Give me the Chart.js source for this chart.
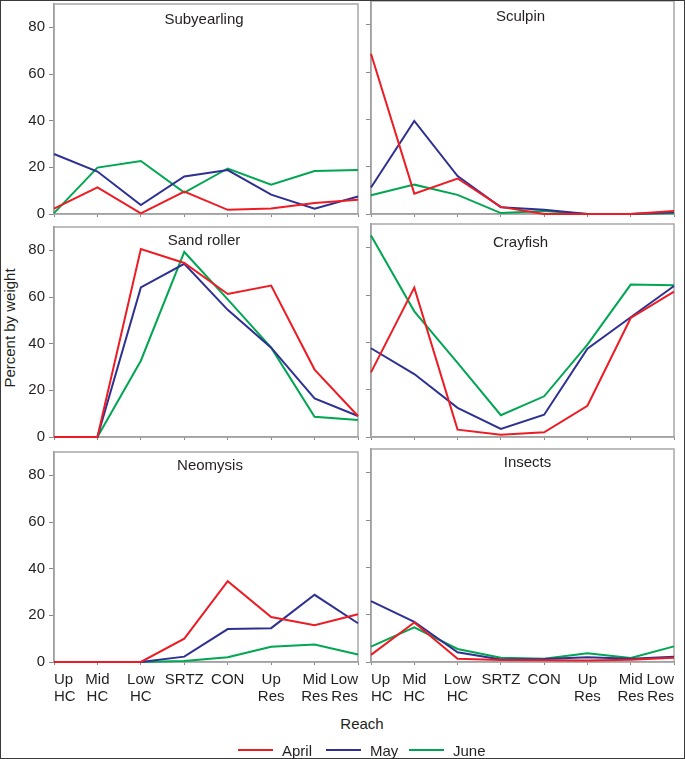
<!DOCTYPE html>
<html>
<head>
<meta charset="utf-8">
<script src="https://cdn.jsdelivr.net/npm/chart.js@4.4.0/dist/chart.umd.min.js"></script>
<style>
  body { margin: 0; background: #fff; }
  #wrap { position: relative; width: 685px; height: 759px; overflow: hidden; background: #fff;
          font-family: "Liberation Sans", Arial, sans-serif; color: #231f20; }
  #wrap canvas { position: absolute; }
  #border { position: absolute; left: 0; top: 0; right: 0; bottom: 0; border: 1.5px solid #3a3a3a; pointer-events: none; }
  .txt { position: absolute; font-size: 15px; white-space: nowrap; line-height: 1; }
  #ylab { left: 9px; top: 328px; transform: translate(-50%, -50%) rotate(-90deg); }
  #xlab { left: 362px; top: 723px; transform: translate(-50%, -50%); }
  .leg-line { position: absolute; height: 2px; width: 35px; top: 749px; }
</style>
</head>
<body>
<div id="wrap">
  <div class="txt" id="ylab">Percent by weight</div>
  <div class="txt" id="xlab">Reach</div>
  <div id="border"></div>
</div>
<script>
// Categories and series
const reaches = [['Up', 'HC'], ['Mid', 'HC'], ['Low', 'HC'], 'SRTZ', 'CON', ['Up', 'Res'], ['Mid', 'Res'], ['Low', 'Res']];
const months = ['April', 'May', 'June'];
const monthColors = ['#ed1c24', '#2e3192', '#00a651'];
const yTicks = [0, 20, 40, 60, 80];
const panelNames = ['Subyearling', 'Sculpin', 'Sand roller', 'Crayfish', 'Neomysis', 'Insects'];

// Percent by weight; rows are April, May, June
const subyearling = [
    [2.3, 11.4, 0.3, 9.6, 1.8, 2.4, 4.7, 6.1],
    [25.7, 18.2, 3.8, 16.1, 18.8, 8.3, 2.3, 7.5],
    [0.4, 19.9, 22.7, 9.2, 19.5, 12.6, 18.4, 18.9]
];
const sculpin = [
    [67.7, 8.6, 15.0, 3.0, 0, 0, 0, 1.3],
    [11.2, 39.3, 16.0, 2.8, 1.8, 0, 0, 0.7],
    [7.9, 12.4, 8.1, 0.4, 1.3, 0, 0, 0.3]
];
const sandRoller = [
    [0, 0, 80.6, 74.6, 61.3, 64.9, 28.9, 9.0],
    [0, 0, 64.1, 74.2, 54.5, 38.3, 16.5, 9.0],
    [0, 0, 32.7, 79.3, 59.0, 38.3, 8.7, 7.3]
];
const crayfish = [
    [27.3, 63.1, 3.1, 1.0, 2.0, 13.2, 50.3, 61.4],
    [37.5, 26.6, 12.3, 3.4, 9.4, 37.3, 50.6, 63.8],
    [85.1, 53.1, 31.3, 9.2, 17.2, 39.0, 64.4, 64.1]
];
const neomysis = [
    [0, 0, 0, 10.0, 34.6, 19.3, 15.8, 20.5],
    [0, 0, 0, 2.3, 14.1, 14.5, 28.8, 16.6],
    [0, 0, 0, 0.4, 2.0, 6.5, 7.5, 3.2]
];
const insects = [
    [3.0, 16.7, 1.4, 0.8, 0.7, 0.6, 1.0, 1.8],
    [25.7, 17.0, 4.1, 1.1, 1.3, 2.0, 1.4, 2.2],
    [6.5, 14.6, 5.5, 1.8, 1.4, 3.7, 1.7, 6.6]
];
const panelData = [subyearling, sculpin, sandRoller, crayfish, neomysis, insects];

// Layout (pixels)
const colLeft = [54, 371];
const colRight = [358, 674];
const rowTop = [1, 224, 449];
const rowBottom = [214, 437, 662];
const titleDx = [-2, -2, -2, -2, 4, 5];
const titleBase = [20, 19.5, 17.7, 23.3, 17.7, 18.3];
const legendX = [238, 326, 409];

const fontFamily = '"Liberation Sans", Arial, sans-serif';
const textColor = '#231f20';
const axisGrey = '#8a8a8a';
const frameGrey = '#a8a8a8';

const framePlugin = {
    id: 'panelFrame',
    beforeDatasetsDraw(chart, args, opts) {
        const { ctx, chartArea: a } = chart;
        ctx.save();
        ctx.strokeStyle = frameGrey;
        ctx.lineWidth = 1.5;
        ctx.strokeRect(a.left, a.top, a.right - a.left, a.bottom - a.top);
        ctx.fillStyle = textColor;
        ctx.font = '15px ' + fontFamily;
        ctx.textAlign = 'center';
        ctx.textBaseline = 'alphabetic';
        ctx.fillText(opts.title, (a.left + a.right) / 2 + opts.dx, a.top + opts.base);
        ctx.restore();
    }
};

function makePanel(index) {
    const col = index % 2;
    const row = Math.floor(index / 2);
    const isLeft = col === 0;
    const isBottom = row === 2;
    const canvasLeft = isLeft ? 0 : 350;
    const canvasRight = isLeft ? 380 : 700;
    const xHeight = isBottom ? 52 : 14;
    const padTop = 10;
    const w = canvasRight - canvasLeft;
    const h = rowBottom[row] - rowTop[row] + padTop + xHeight;

    const canvas = document.createElement('canvas');
    canvas.width = w;
    canvas.height = h;
    canvas.style.left = canvasLeft + 'px';
    canvas.style.top = (rowTop[row] - padTop) + 'px';
    canvas.style.width = w + 'px';
    canvas.style.height = h + 'px';
    document.getElementById('wrap').insertBefore(canvas, document.getElementById('border'));

    new Chart(canvas, {
        type: 'line',
        data: {
            labels: reaches,
            datasets: months.map((m, i) => ({
                label: m,
                data: panelData[index][i],
                borderColor: monthColors[i],
                borderWidth: 2,
                pointRadius: 0,
                tension: 0,
                clip: false
            }))
        },
        options: {
            responsive: false,
            animation: false,
            devicePixelRatio: 1,
            layout: { padding: { top: padTop, right: canvasRight - colRight[col], left: 0, bottom: 0 } },
            plugins: {
                legend: { display: false },
                tooltip: { enabled: false },
                panelFrame: { title: panelNames[index], dx: titleDx[index], base: titleBase[index] }
            },
            scales: {
                x: {
                    grid: { drawOnChartArea: false, drawTicks: true, tickLength: 3, color: axisGrey, lineWidth: 1 },
                    border: { color: axisGrey, width: 1.5 },
                    ticks: {
                        display: isBottom,
                        autoSkip: false,
                        maxRotation: 0,
                        align: 'inner',
                        padding: 6,
                        color: textColor,
                        font: { family: fontFamily, size: 15, lineHeight: 1.15 }
                    },
                    afterFit: s => { s.height = xHeight; }
                },
                y: {
                    min: 0,
                    max: 90,
                    afterBuildTicks: s => { s.ticks = yTicks.map(v => ({ value: v })); },
                    grid: { drawOnChartArea: false, drawTicks: true, tickLength: 5, color: axisGrey, lineWidth: 1 },
                    border: { color: axisGrey, width: 1.5 },
                    ticks: {
                        display: isLeft,
                        padding: 4,
                        color: textColor,
                        font: { family: fontFamily, size: 15 }
                    },
                    afterFit: s => { s.width = colLeft[col] - canvasLeft; }
                }
            }
        },
        plugins: [framePlugin]
    });
}

function buildLegend() {
    const wrap = document.getElementById('wrap');
    months.forEach((m, i) => {
        const line = document.createElement('div');
        line.className = 'leg-line';
        line.style.left = legendX[i] + 'px';
        line.style.background = monthColors[i];
        wrap.appendChild(line);
        const label = document.createElement('div');
        label.className = 'txt';
        label.textContent = m;
        label.style.left = (legendX[i] + 44) + 'px';
        label.style.top = '743px';
        wrap.appendChild(label);
    });
}

panelNames.forEach((name, i) => makePanel(i));
buildLegend();
</script>
</body>
</html>
